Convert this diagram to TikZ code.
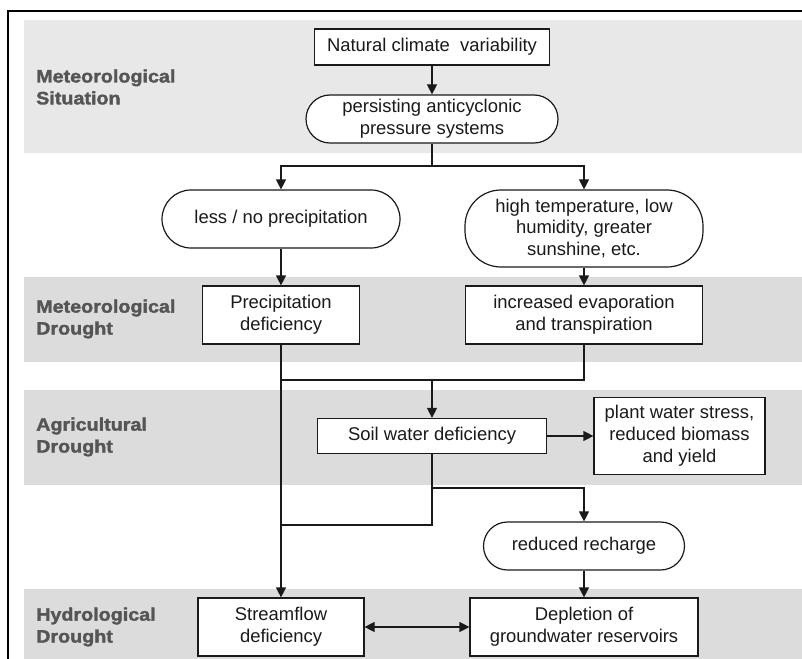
\documentclass[tikz,border=0pt]{standalone}
\usepackage{fontspec}
\setmainfont{Liberation Sans}
\newfontfamily\lblfont[FakeStretch=1.1,BoldFeatures={FakeBold=1.8}]{Liberation Sans}
\usetikzlibrary{arrows.meta}
\definecolor{bandA}{HTML}{E8E8E8}
\definecolor{bandB}{HTML}{DCDCDC}
\definecolor{lblc}{HTML}{555555}
\definecolor{ink}{HTML}{1A1A1A}
\tikzset{
  box/.style={draw=ink, line width=1.2bp, fill=white, inner sep=0pt, align=center,
    font=\fontsize{18.5}{22}\selectfont, text=ink},
  stadium/.style={box, rounded corners=#1},
  lbl/.style={anchor=west, align=left, inner sep=0pt, text=lblc,
    font=\lblfont\bfseries\fontsize{18}{22}\selectfont},
  conn/.style={draw=ink, line width=1.2bp},
  tip/.tip={Triangle[width=10bp,length=10bp]},
  arr/.style={conn, -tip},
}
\begin{document}
\begin{tikzpicture}[x=1bp,y=-1bp]
\useasboundingbox (0,0) rectangle (802,659);
% bands
\fill[bandA] (24,20) rectangle (802,153);
\fill[bandB] (24,277) rectangle (802,362);
\fill[bandB] (24,390) rectangle (802,485);
\fill[bandB] (24,589) rectangle (802,659);
% frame
\draw[line width=2bp] (8,659) -- (8,11) -- (802,11);
% labels
\node[lbl] (l1) at (36,87) {Meteorological\\Situation};
\node[lbl] (l2) at (36,319) {Meteorological\\Drought};
\node[lbl] (l3) at (36,437) {Agricultural\\Drought};
\node[lbl] (l4) at (36,627) {Hydrological\\Drought};
% nodes
\node[box, minimum width=235bp, minimum height=36bp] (nat) at (432,47) {Natural climate\ \ variability};
\node[stadium=24bp, minimum width=252bp, minimum height=48bp] (pers) at (432,119) {persisting anticyclonic\\pressure systems};
\node[stadium=29bp, minimum width=238bp, minimum height=58bp] (less) at (281,219) {less / no precipitation};
\node[stadium=36bp, minimum width=238bp, minimum height=77bp] (high) at (584,228.5) {high temperature, low\\humidity, greater\\sunshine, etc.};
\node[box, minimum width=157bp, minimum height=58bp] (prec) at (281,315) {Precipitation\\deficiency};
\node[box, minimum width=237bp, minimum height=58bp] (evap) at (584,315) {increased evaporation\\and transpiration};
\node[box, minimum width=229bp, minimum height=35bp] (soil) at (432,436) {Soil water deficiency};
\node[box, minimum width=171bp, minimum height=77bp] (plant) at (679.5,436) {plant water stress,\\reduced biomass\\and yield};
\node[stadium=24bp, minimum width=201bp, minimum height=48bp] (rech) at (584,546) {reduced recharge};
\node[box, minimum width=166bp, minimum height=58bp] (strm) at (281,627) {Streamflow\\deficiency};
\node[box, minimum width=228bp, minimum height=58bp] (depl) at (584,627) {Depletion of\\groundwater reservoirs};
% junctions
\coordinate (j1) at (432,166);
\coordinate (j2) at (432,380);
\coordinate (j3) at (432,488);
\coordinate (j4) at (432,525);
% connectors
\draw[arr] (nat.south) -- (pers.north);
\draw[conn] (pers.south) -- (j1);
\draw[arr] (j1) -| (less.north);
\draw[arr] (j1) -| (high.north);
\draw[arr] (less.south) -- (prec.north);
\draw[arr] (high.south) -- (evap.north);
\draw[arr] (prec.south) -- (strm.north);
\draw[conn] (evap.south) |- (prec.south |- j2);
\draw[arr] (j2) -- (soil.north);
\draw[arr] (soil.east) -- (plant.west);
\draw[conn] (soil.south) |- (prec.south |- j4);
\draw[arr] (j3) -| (rech.north);
\draw[arr] (rech.south) -- (depl.north);
\draw[conn, tip-tip] (strm.east) -- (depl.west);
\end{tikzpicture}
\end{document}
